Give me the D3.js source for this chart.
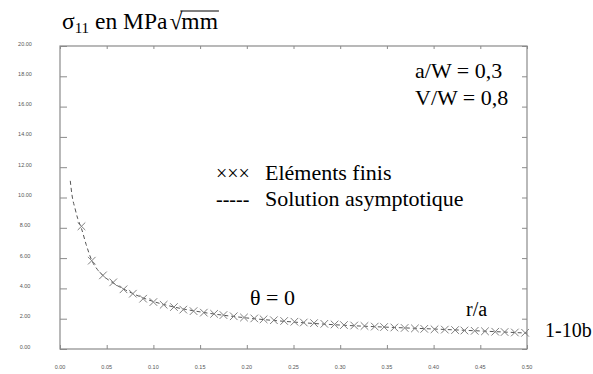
<!DOCTYPE html>
<html>
<head>
<meta charset="utf-8">
<script src="https://cdn.jsdelivr.net/npm/d3@7"></script>
<style>
  html, body { margin: 0; padding: 0; background: #fff; }
  svg { display: block; }
</style>
</head>
<body>
<svg id="chart" width="593" height="374"></svg>
<script>
// ---- data ----
const xTicks = [0.00, 0.05, 0.10, 0.15, 0.20, 0.25, 0.30, 0.35, 0.40, 0.45, 0.50];
const yTicks = [0, 2, 4, 6, 8, 10, 12, 14, 16, 18, 20];

// Finite element results (crosses): r/a and sigma11
const feR = [0.023, 0.034, 0.046, 0.057, 0.068, 0.078, 0.089, 0.100, 0.111, 0.122,
             0.132, 0.143, 0.154, 0.165, 0.175, 0.186, 0.197, 0.208, 0.218, 0.229,
             0.240, 0.251, 0.261, 0.272, 0.283, 0.294, 0.304, 0.315, 0.326, 0.337,
             0.347, 0.358, 0.369, 0.380, 0.390, 0.401, 0.412, 0.423, 0.433, 0.444,
             0.455, 0.466, 0.476, 0.487, 0.498];
const feS = [8.10, 5.83, 4.86, 4.40, 3.94, 3.65, 3.32, 3.10, 2.92, 2.77,
             2.60, 2.50, 2.40, 2.32, 2.24, 2.16, 2.08, 2.02, 1.96, 1.90,
             1.85, 1.80, 1.75, 1.71, 1.66, 1.62, 1.58, 1.55, 1.52, 1.48,
             1.45, 1.42, 1.39, 1.36, 1.33, 1.30, 1.28, 1.25, 1.22, 1.20,
             1.17, 1.14, 1.12, 1.09, 1.07];

// Asymptotic solution (dashed line)
const asR = [0.011, 0.013, 0.016, 0.019, 0.023, 0.028, 0.034, 0.040, 0.046, 0.057,
             0.070, 0.090, 0.120, 0.150, 0.200, 0.250, 0.300, 0.350, 0.400, 0.450, 0.500];
const asS = [11.1, 10.1, 9.3, 8.6, 7.95, 6.9, 5.85, 5.25, 4.85, 4.35,
             3.9, 3.35, 2.8, 2.45, 2.05, 1.78, 1.58, 1.44, 1.32, 1.19, 1.05];

// ---- layout ----
const svg = d3.select("#chart");
const X0 = 60, X1 = 527, Y0 = 46, Y1 = 349;
const x = d3.scaleLinear().domain([0, 0.5]).range([X0, X1]);
const y = d3.scaleLinear().domain([0, 20]).range([Y1, Y0]);
const axisCol = "#8a8a8a";
const serif = "Liberation Serif";
const sans = "Liberation Sans";

// frame
svg.append("rect").attr("x", X0).attr("y", Y0).attr("width", X1 - X0).attr("height", Y1 - Y0)
  .attr("fill", "none").attr("stroke", axisCol).attr("stroke-width", 1.2);

// axes via d3 axis generators
const fmt = d3.format(".2f");
const gLeft = svg.append("g").attr("transform", `translate(${X0},0)`)
  .call(d3.axisRight(y).tickValues(yTicks).tickSize(7).tickFormat(""));
const gRight = svg.append("g").attr("transform", `translate(${X1},0)`)
  .call(d3.axisLeft(y).tickValues(yTicks).tickSize(5).tickFormat(""));
const gTop = svg.append("g").attr("transform", `translate(0,${Y0})`)
  .call(d3.axisBottom(x).tickValues(xTicks).tickSize(3).tickFormat(""));
const gBottom = svg.append("g").attr("transform", `translate(0,${Y1})`)
  .call(d3.axisTop(x).tickValues(xTicks).tickSize(4).tickFormat(""));
[gLeft, gRight, gTop, gBottom].forEach(g => {
  g.select(".domain").remove();
  g.selectAll("line").attr("stroke", axisCol).attr("stroke-width", 1);
});

// tick labels
svg.append("g").selectAll("text").data(yTicks).join("text")
  .attr("x", 25).attr("y", d => y(d) - 0.5)
  .attr("text-anchor", "middle").attr("font-family", sans).attr("font-size", 5.5)
  .attr("fill", "#555").text(d => fmt(d));
svg.append("g").selectAll("text").data(xTicks).join("text")
  .attr("x", d => x(d)).attr("y", 369)
  .attr("text-anchor", "middle").attr("font-family", sans).attr("font-size", 5.5)
  .attr("fill", "#555").text(d => fmt(d));

// asymptotic dashed line
const asData = asR.map((r, i) => [r, asS[i]]);
svg.append("path").datum(asData)
  .attr("d", d3.line().x(d => x(d[0])).y(d => y(d[1])).curve(d3.curveMonotoneX))
  .attr("fill", "none").attr("stroke", "#555").attr("stroke-width", 1)
  .attr("stroke-dasharray", "4,3");

// finite element crosses
const feData = feR.map((r, i) => [r, feS[i]]);
const cs = 3.8;
svg.append("g").selectAll("path").data(feData).join("path")
  .attr("d", d => {
    const cx = x(d[0]), cy = y(d[1]);
    return `M${cx - cs},${cy - cs}L${cx + cs},${cy + cs}M${cx - cs},${cy + cs}L${cx + cs},${cy - cs}`;
  })
  .attr("stroke", "#808080").attr("stroke-width", 1).attr("fill", "none");

// ---- annotations (serif) ----
function txt(t, px, py, size) {
  return svg.append("text").attr("x", px).attr("y", py)
    .attr("font-family", serif).attr("font-size", size).attr("fill", "#000").text(t);
}

// title: sigma_11 en MPa sqrt(mm)
const tY = 29, tS = 23.5;
const t1 = svg.append("text").attr("x", 62).attr("y", tY)
  .attr("font-family", serif).attr("font-size", tS).attr("fill", "#000");
t1.append("tspan").text("σ");
t1.append("tspan").attr("font-size", 15).attr("dy", 4).text("11");
t1.append("tspan").attr("dy", -4).text(" en MPa ");
const w1 = t1.node().getComputedTextLength();
const sqX = 62 + w1 + 2;
const sq = txt("√", sqX, tY, tS);
const wsq = sq.node().getComputedTextLength();
const mmX = sqX + wsq - 1;
const mm = txt("mm", mmX, tY, tS);
const wmm = mm.node().getComputedTextLength();
svg.append("line").attr("x1", mmX - 1).attr("x2", mmX + wmm + 1)
  .attr("y1", tY - 18).attr("y2", tY - 18).attr("stroke", "#000").attr("stroke-width", 1);

// parameters
txt("a/W = 0,3", 415, 78, 22);
txt("V/W = 0,8", 415, 105, 22);

// legend
txt("×××", 216, 180, 20);
txt("Eléments finis", 265, 180, 22);
txt("-----", 216, 206, 20);
txt("Solution asymptotique", 265, 206, 22);

// theta, r/a, figure label
txt("θ = 0", 250, 305, 22);
txt("r/a", 466, 316, 20);
txt("1-10b", 545, 337, 20);
</script>
</body>
</html>
